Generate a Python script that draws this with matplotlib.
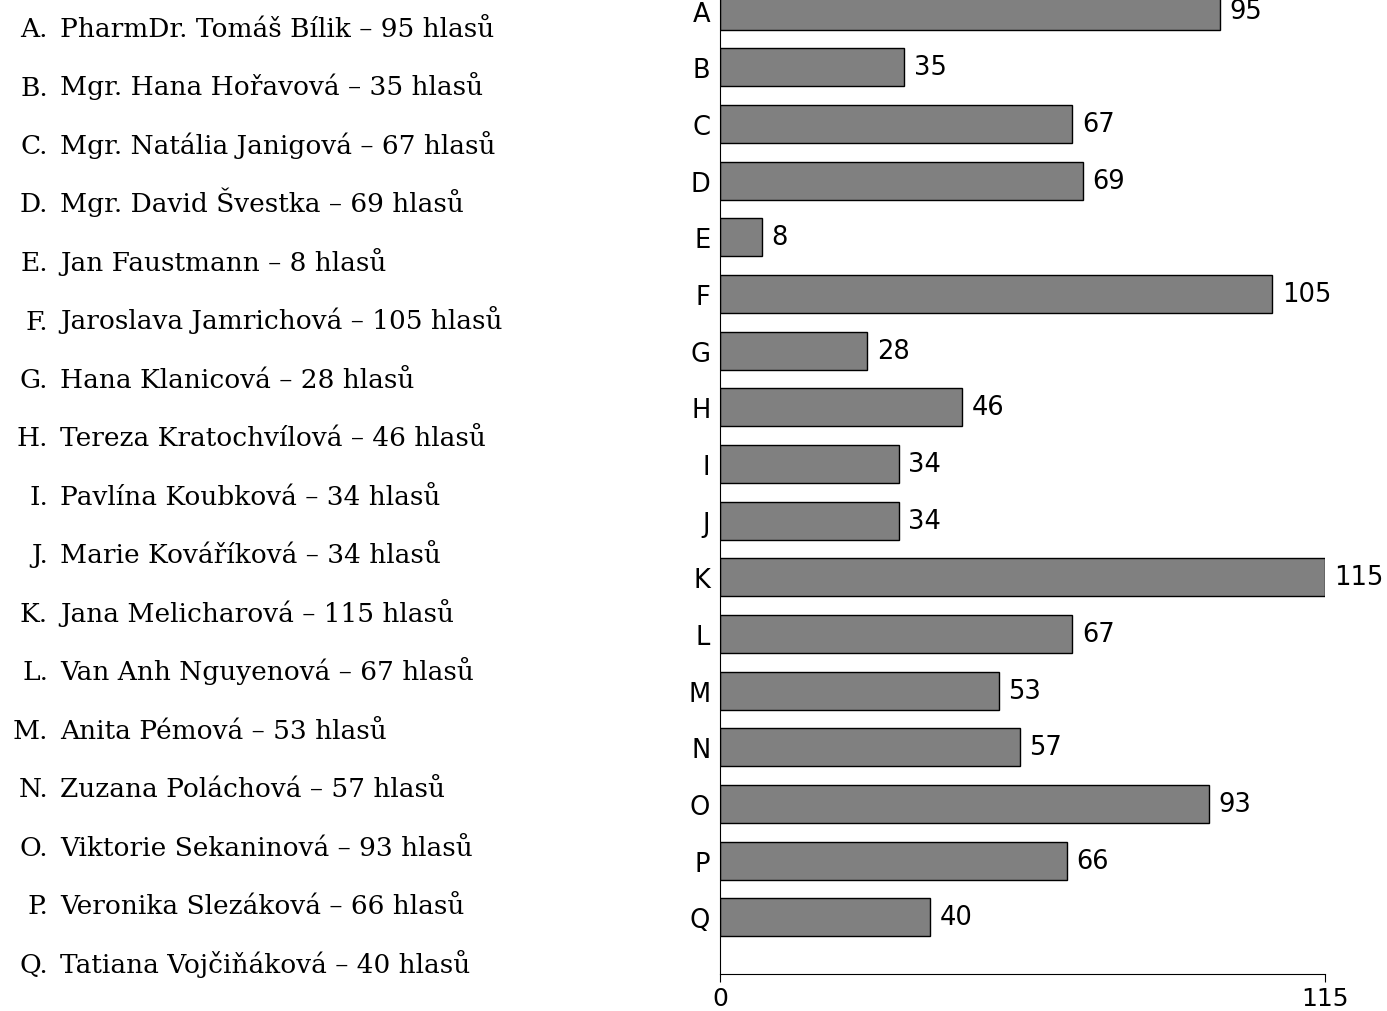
import matplotlib
matplotlib.use("Agg")
import matplotlib.pyplot as plt
import numpy as np

# ---------------- data ----------------
letters = list("ABCDEFGHIJKLMNOPQ")
names = [
    "PharmDr. Tomáš Bílik",
    "Mgr. Hana Hořavová",
    "Mgr. Natália Janigová",
    "Mgr. David Švestka",
    "Jan Faustmann",
    "Jaroslava Jamrichová",
    "Hana Klanicová",
    "Tereza Kratochvílová",
    "Pavlína Koubková",
    "Marie Kováříková",
    "Jana Melicharová",
    "Van Anh Nguyenová",
    "Anita Pémová",
    "Zuzana Poláchová",
    "Viktorie Sekaninová",
    "Veronika Slezáková",
    "Tatiana Vojčiňáková",
]
votes = [95, 35, 67, 69, 8, 105, 28, 46, 34, 34, 115, 67, 53, 57, 93, 66, 40]
# --------------------------------------

W, H, DPI = 1387, 1012, 100
fig = plt.figure(figsize=(W / DPI, H / DPI), dpi=DPI)

# bar panel (top of the axes runs past the figure edge, as in the reference)
ax = fig.add_axes([720 / W, 1 - 975 / H, 605 / W, (975 + 45) / H])
y = np.arange(len(letters))
ax.barh(y, votes, height=0.67, color="#808080", edgecolor="black", lw=1.0)
for yi, v in zip(y, votes):
    ax.text(v + 1.8, yi, str(v), va="center", ha="left", fontsize=18.5,
            family="DejaVu Sans")

ax.set_ylim(len(letters), -1)
ax.set_xlim(0, max(votes))
ax.set_yticks(y)
ax.set_yticklabels(letters, fontsize=18.5)
ax.set_xticks([0, max(votes)])
ax.set_xticklabels(["0", str(max(votes))], fontsize=18)
ax.tick_params(axis="y", length=0, pad=7)
ax.tick_params(axis="x", length=6, pad=2.5)
for s in ("top", "right"):
    ax.spines[s].set_visible(False)

# left legend list in serif font
for i, (l, n, v) in enumerate(zip(letters, names, votes)):
    ypx = 37 + i * 58.5          # baseline, pixels from top
    fig.text(48 / W, 1 - ypx / H, f"{l}.", ha="right", va="baseline",
             fontsize=19, family="DejaVu Serif")
    fig.text(60 / W, 1 - ypx / H, f"{n} – {v} hlasů", ha="left", va="baseline",
             fontsize=19, family="DejaVu Serif")

fig.savefig("out.png", dpi=DPI)
